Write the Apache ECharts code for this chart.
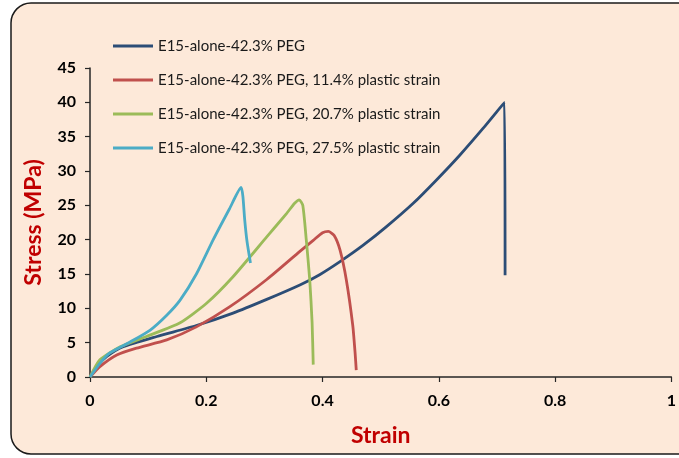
<!DOCTYPE html>
<html>
<head>
<meta charset="utf-8">
<script src="https://cdn.jsdelivr.net/npm/echarts@6/dist/echarts.min.js"></script>
<style>
html,body{margin:0;padding:0;background:#ffffff;}
#chart{width:679px;height:458px;}
</style>
</head>
<body>
<div id="chart"></div>
<script>
// ---- data (strain, stress in MPa) ----
var seriesNames = [
  'E15-alone-42.3% PEG',
  'E15-alone-42.3% PEG, 11.4% plastic strain',
  'E15-alone-42.3% PEG, 20.7% plastic strain',
  'E15-alone-42.3% PEG, 27.5% plastic strain'
];
var strainA = [0, 0.015, 0.029, 0.057, 0.115, 0.183, 0.246, 0.304, 0.361, 0.395, 0.430, 0.470, 0.510, 0.556, 0.596, 0.636, 0.676, 0.713, 0.714];
var stressA = [0, 1.8, 3.0, 4.4, 5.9, 7.5, 9.3, 11.3, 13.4, 14.9, 16.8, 19.2, 21.9, 25.3, 28.7, 32.3, 36.2, 40.0, 14.8];

var strainB = [0, 0.017, 0.046, 0.080, 0.132, 0.183, 0.240, 0.304, 0.361, 0.384, 0.400, 0.410, 0.420, 0.430, 0.441, 0.452, 0.456, 0.458];
var stressB = [0, 1.5, 3.2, 4.2, 5.4, 7.3, 10.2, 14.2, 18.3, 19.9, 21.0, 21.2, 20.6, 18.5, 14.1, 7.5, 3.5, 1.0];

var strainC = [0, 0.017, 0.052, 0.097, 0.155, 0.200, 0.246, 0.304, 0.338, 0.352, 0.360, 0.366, 0.372, 0.378, 0.382, 0.384];
var stressC = [0, 2.5, 4.4, 5.9, 7.9, 10.7, 14.6, 20.4, 23.8, 25.3, 25.8, 25.0, 20.0, 14.1, 8.0, 1.8];

var strainD = [0, 0.017, 0.034, 0.069, 0.103, 0.132, 0.155, 0.183, 0.212, 0.240, 0.260, 0.263, 0.266, 0.270, 0.276];
var stressD = [0, 2.0, 3.5, 5.1, 6.8, 9.0, 11.2, 15.0, 20.0, 24.5, 27.6, 26.3, 23.0, 19.8, 16.6];

var xTicks = [0, 0.2, 0.4, 0.6, 0.8, 1];
var yTicks = [0, 5, 10, 15, 20, 25, 30, 35, 40, 45];
var colors = ['#2C4D76', '#C0504D', '#9BBB59', '#4BACC6'];

function pairs(xs, ys){ return xs.map(function(x,i){ return [x, ys[i]]; }); }
var allX = [strainA, strainB, strainC, strainD];
var allY = [stressA, stressB, stressC, stressD];

var FONT = 'Lato, "Open Sans", sans-serif';
var chart = echarts.init(document.getElementById('chart'), null, {renderer:'canvas'});
chart.setOption({
  backgroundColor: 'transparent',
  animation: false,
  graphic: [{
    type: 'rect', z: -10, silent: true,
    shape: {x: 11, y: 3, width: 700, height: 451, r: 20},
    style: {fill: '#FDE9D9', stroke: '#1a1a1a', lineWidth: 1.5}
  }],
  color: colors,
  legend: {
    orient: 'vertical', left: 113, top: 38, padding: 0,
    itemWidth: 40, itemHeight: 3, itemGap: 18,
    icon: 'rect',
    textStyle: {fontFamily: FONT, fontSize: 15, color: '#1a1a1a', lineHeight: 16},
    data: seriesNames
  },
  grid: {left: 90, right: 7, top: 68, bottom: 81},
  xAxis: {
    type: 'value', min: xTicks[0], max: xTicks[xTicks.length-1], interval: 0.2,
    name: 'Strain', nameLocation: 'middle', nameGap: 47,
    nameTextStyle: {fontFamily: FONT, fontWeight: 'bold', fontSize: 23, color: '#C00000'},
    axisLine: {lineStyle: {color: '#262626', width: 1.5}},
    axisTick: {show: true, length: 5, lineStyle: {color: '#262626', width: 1.2}},
    axisLabel: {fontFamily: FONT, fontWeight: 'bold', fontSize: 16, color: '#000', margin: 16},
    splitLine: {show: false}
  },
  yAxis: {
    type: 'value', min: yTicks[0], max: yTicks[yTicks.length-1], interval: 5,
    name: 'Stress (MPa)', nameLocation: 'middle', nameGap: 45,
    nameTextStyle: {fontFamily: FONT, fontWeight: 'bold', fontSize: 23, color: '#C00000'},
    axisLine: {show: true, lineStyle: {color: '#262626', width: 1.5}},
    axisTick: {show: true, length: 5, lineStyle: {color: '#262626', width: 1.2}},
    axisLabel: {fontFamily: FONT, fontWeight: 'bold', fontSize: 16, color: '#000', margin: 14},
    splitLine: {show: false}
  },
  series: seriesNames.map(function(n, i){
    return {
      name: n, type: 'line', data: pairs(allX[i], allY[i]),
      showSymbol: false, smooth: 0.2,
      lineStyle: {width: 2.8, color: colors[i]}, z: 2 + i
    };
  })
});
</script>
</body>
</html>
